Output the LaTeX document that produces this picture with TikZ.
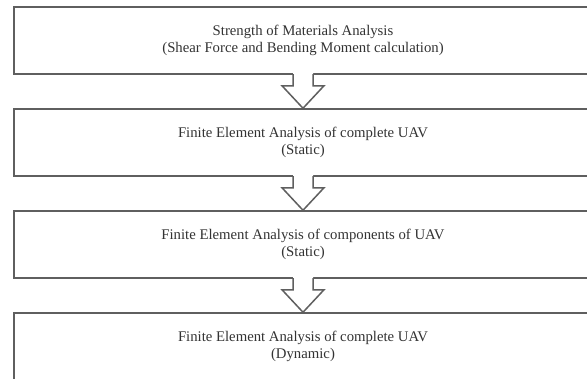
\documentclass[tikz,border=0pt]{standalone}
\usepackage{fontspec}
\setmainfont{Liberation Serif}
\usetikzlibrary{calc}
\definecolor{edgegray}{HTML}{5F5F5F}
\definecolor{txtgray}{HTML}{333333}
\newcommand\blockarrow[2]{%
  \fill[white] ($(#1.south)+(-10,-2)$) -- ($(#1.south)+(-10,11)$) -- ($(#1.south)+(-21,11)$) -- (#2.north) -- ($(#1.south)+(21,11)$) -- ($(#1.south)+(10,11)$) -- ($(#1.south)+(10,-2)$) -- cycle;
  \draw[arrowline] ($(#1.south)+(-10,-0.75)$) -- ($(#1.south)+(-10,11)$) -- ($(#1.south)+(-21,11)$) -- (#2.north) -- ($(#1.south)+(21,11)$) -- ($(#1.south)+(10,11)$) -- ($(#1.south)+(10,-0.75)$);
}
\begin{document}
\begin{tikzpicture}[x=1bp,y=-1bp,
  box/.style={draw=edgegray, line width=1.5bp, minimum width=578bp, minimum height=67bp,
    inner sep=0pt, align=center, text=txtgray, font=\fontsize{14.8}{17}\selectfont},
  arrowline/.style={draw=edgegray, line width=1.5bp, line join=miter}]
\useasboundingbox (0,0) rectangle (587,378);
\clip (0,0) rectangle (587,378);
\fill[white] (0,0) rectangle (587,378);
\node[box] (b1) at (303,40.5) {Strength of Materials Analysis\\(Shear Force and Bending Moment calculation)};
\node[box] (b2) at (303,142.5) {Finite Element Analysis of complete UAV\\(Static)};
\node[box] (b3) at (303,244.5) {Finite Element Analysis of components of UAV\\(Static)};
\node[box] (b4) at (303,346.5) {Finite Element Analysis of complete UAV\\(Dynamic)};
\blockarrow{b1}{b2}
\blockarrow{b2}{b3}
\blockarrow{b3}{b4}
\end{tikzpicture}
\end{document}
